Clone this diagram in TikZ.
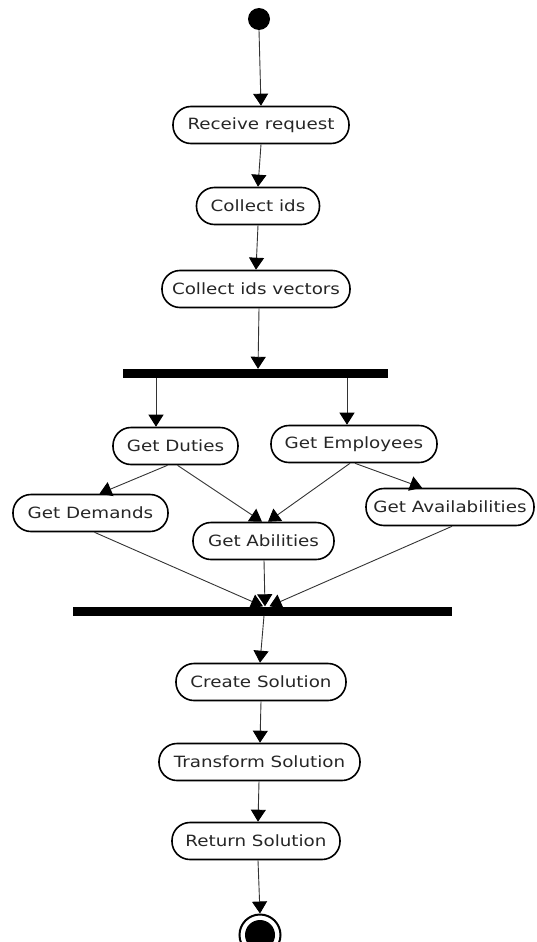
\documentclass[tikz,border=0pt]{standalone}
\usepackage{fontspec}
\setmainfont{DejaVu Sans}[FakeStretch=1.18]
\usetikzlibrary{arrows.meta}
\begin{document}
\begin{tikzpicture}[x=1pt,y=-1pt,
  act/.style={draw, line width=1.6pt, rounded corners=18pt, minimum height=37pt,
    inner sep=0pt, font=\fontsize{15.5}{18}\selectfont, text=black!85},
  bar/.style={fill=black, inner sep=0pt, minimum height=9pt},
  flow/.style={draw=black!80, line width=0.9pt,
    -{Triangle[width=15pt,length=12pt,color=black]}},
]
\useasboundingbox (0,0) rectangle (537,942);

% start and end states
\node[circle, fill=black, inner sep=0pt, minimum size=22pt] (start) at (259,19) {};
\node[circle, draw, line width=2pt, inner sep=0pt, minimum size=41pt] (stop) at (260,935) {};
\fill (stop.center) circle (15pt);

% sequential actions
\node[act, minimum width=176pt] (recv) at (261,125) {Receive request};
\node[act, minimum width=123pt] (ids) at (258,206) {Collect ids};
\node[act, minimum width=188pt] (vec) at (256,289) {Collect ids vectors};

% fork bar
\node[bar, minimum width=265pt] (fork) at (255.5,373.5) {};

% parallel actions
\node[act, minimum width=125pt] (duties) at (175.5,446) {Get Duties};
\node[act, minimum width=166pt] (emp) at (354,444) {Get Employees};
\node[act, minimum width=155pt] (dem) at (90.5,513) {Get Demands};
\node[act, minimum width=141pt] (abil) at (263.5,541) {Get Abilities};
\node[act, minimum width=168pt] (avail) at (450,507) {Get Availabilities};

% join bar
\node[bar, minimum width=379pt] (join) at (262.5,611) {};

% final actions
\node[act, minimum width=170pt] (create) at (261,682) {Create Solution};
\node[act, minimum width=201pt] (trans) at (259.5,762) {Transform Solution};
\node[act, minimum width=168pt] (ret) at (256,841) {Return Solution};

% connectors
\draw[flow] (start.south) -- (recv.north);
\draw[flow] (recv.south) -- (ids.north);
\draw[flow] (ids.south) -- (vec.north);
\draw[flow] ([xshift=3pt]vec.south) -- ([xshift=2.5pt]fork.north);
\draw[flow] ([xshift=-99.5pt]fork.south) -- ([xshift=-19.5pt]duties.north);
\draw[flow] ([xshift=91.5pt]fork.south) -- ([xshift=-7pt]emp.north);
\draw[flow] ([xshift=-8pt]duties.south) -- ([xshift=9pt]dem.north);
\draw[flow] ([xshift=2pt]duties.south) -- ([xshift=-1.5pt]abil.north);
\draw[flow] ([xshift=-4pt]emp.south) -- ([xshift=4.5pt]abil.north);
\draw[flow] ([xshift=1pt]emp.south) -- ([xshift=-28pt]avail.north);
\draw[flow] ([xshift=4pt]dem.south) -- ([xshift=0.5pt]join.north);
\draw[flow] ([xshift=0.5pt]abil.south) -- ([xshift=2.5pt]join.north);
\draw[flow] ([xshift=2pt]avail.south) -- ([xshift=7pt]join.north);
\draw[flow] ([xshift=1.5pt]join.south) -- ([xshift=-1pt]create.north);
\draw[flow] (create.south) -- ([xshift=0.5pt]trans.north);
\draw[flow] ([xshift=-0.5pt]trans.south) -- ([xshift=2pt]ret.north);
\draw[flow] ([xshift=2pt]ret.south) -- (stop.north);
\end{tikzpicture}
\end{document}
